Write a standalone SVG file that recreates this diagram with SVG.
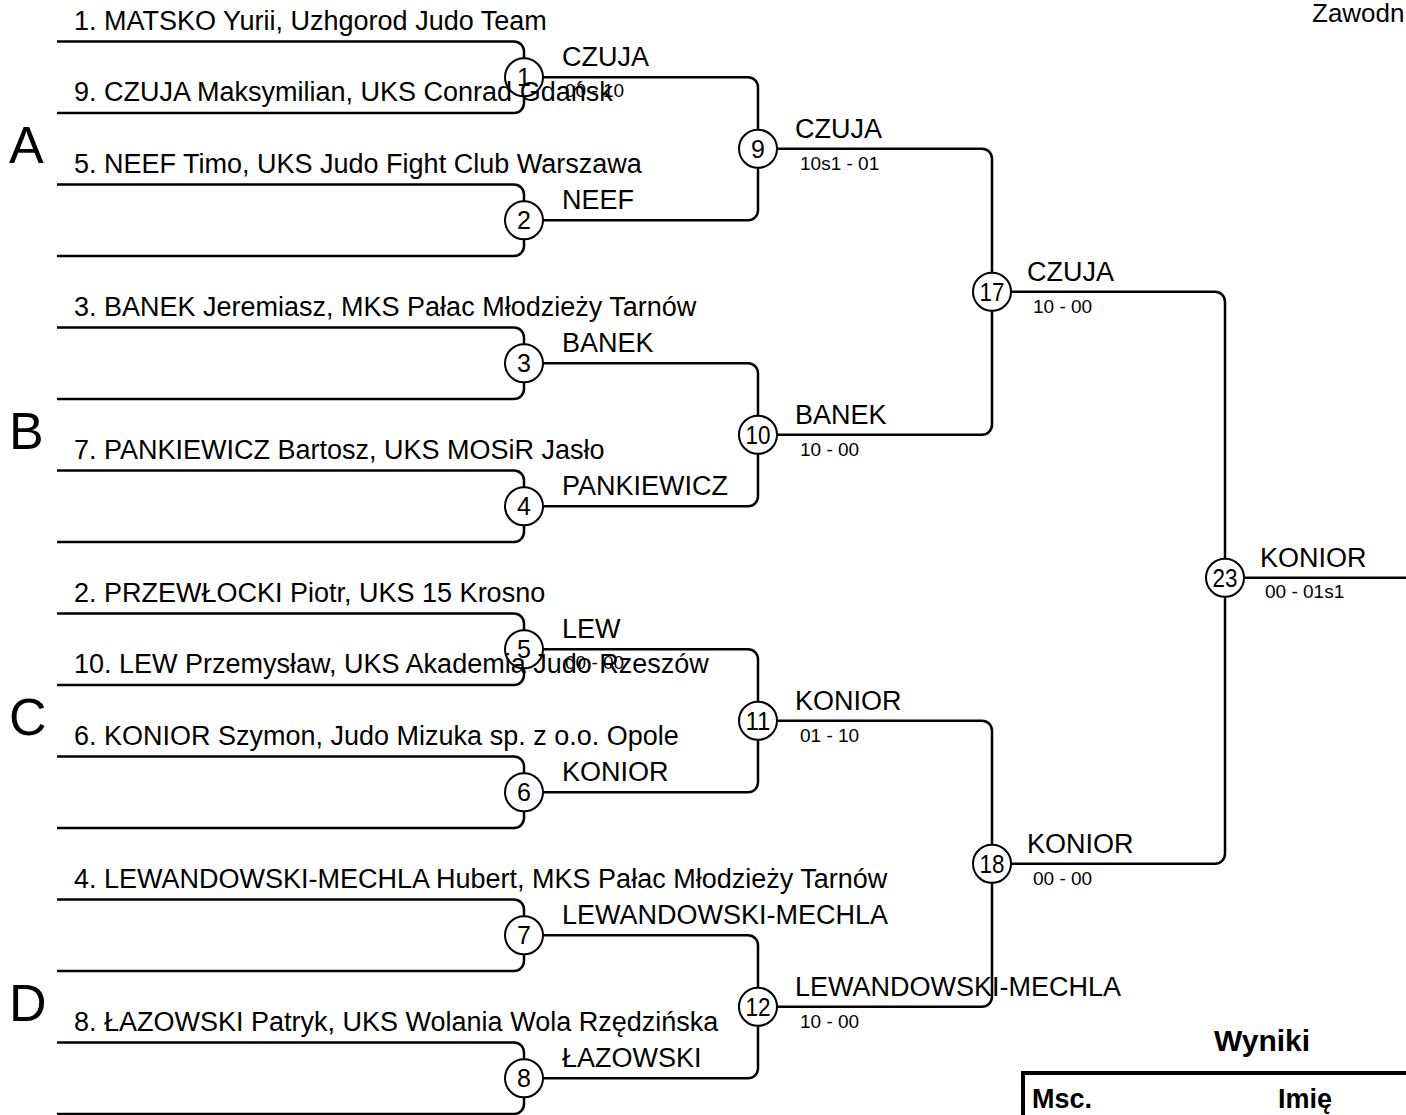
<svg xmlns="http://www.w3.org/2000/svg" width="1406" height="1115" viewBox="0 0 1406 1115">
<style>
.ln{fill:none;stroke:#000;stroke-width:2.5}
.c{fill:none;stroke:#000;stroke-width:2}
text{font-family:'Liberation Sans',Arial,sans-serif;fill:#000}
.nm{font-size:27px}
.lb{font-size:27px}
.sc{font-size:19px}
.num{font-size:25px;text-anchor:middle}
.grp{font-size:52px}
.hd{font-size:27px;font-weight:bold}
</style>
<rect width="1406" height="1115" fill="#fff"/>
<g id="connectors">
<path class="ln" d="M57,41.5 H514 A10,10 0 0 1 524,51.5 V58.25 M57,113 H514 A10,10 0 0 0 524,103 V96.25"/>
<path class="ln" d="M57,184.5 H514 A10,10 0 0 1 524,194.5 V201.25 M57,256 H514 A10,10 0 0 0 524,246 V239.25"/>
<path class="ln" d="M57,327.5 H514 A10,10 0 0 1 524,337.5 V344.25 M57,399 H514 A10,10 0 0 0 524,389 V382.25"/>
<path class="ln" d="M57,470.5 H514 A10,10 0 0 1 524,480.5 V487.25 M57,542 H514 A10,10 0 0 0 524,532 V525.25"/>
<path class="ln" d="M57,613.5 H514 A10,10 0 0 1 524,623.5 V630.25 M57,685 H514 A10,10 0 0 0 524,675 V668.25"/>
<path class="ln" d="M57,756.5 H514 A10,10 0 0 1 524,766.5 V773.25 M57,828 H514 A10,10 0 0 0 524,818 V811.25"/>
<path class="ln" d="M57,899.5 H514 A10,10 0 0 1 524,909.5 V916.25 M57,971 H514 A10,10 0 0 0 524,961 V954.25"/>
<path class="ln" d="M57,1042.5 H514 A10,10 0 0 1 524,1052.5 V1059.25 M57,1114 H514 A10,10 0 0 0 524,1104 V1097.25"/>
<path class="ln" d="M543,77.25 H748 A10,10 0 0 1 758,87.25 V129.75 M543,220.25 H748 A10,10 0 0 0 758,210.25 V167.75"/>
<path class="ln" d="M543,363.25 H748 A10,10 0 0 1 758,373.25 V415.75 M543,506.25 H748 A10,10 0 0 0 758,496.25 V453.75"/>
<path class="ln" d="M543,649.25 H748 A10,10 0 0 1 758,659.25 V701.75 M543,792.25 H748 A10,10 0 0 0 758,782.25 V739.75"/>
<path class="ln" d="M543,935.25 H748 A10,10 0 0 1 758,945.25 V987.75 M543,1078.25 H748 A10,10 0 0 0 758,1068.25 V1025.75"/>
<path class="ln" d="M777,148.75 H982 A10,10 0 0 1 992,158.75 V272.75 M777,434.75 H982 A10,10 0 0 0 992,424.75 V310.75"/>
<path class="ln" d="M777,720.75 H982 A10,10 0 0 1 992,730.75 V844.75 M777,1006.75 H982 A10,10 0 0 0 992,996.75 V882.75"/>
<path class="ln" d="M1011,291.75 H1215 A10,10 0 0 1 1225,301.75 V558.75 M1011,863.75 H1215 A10,10 0 0 0 1225,853.75 V596.75"/>
<path class="ln" d="M1244,577.75 H1406"/>
</g>
<g id="groups">
<text class="grp" x="9" y="163">A</text>
<text class="grp" x="9" y="449">B</text>
<text class="grp" x="9" y="735">C</text>
<text class="grp" x="9" y="1021">D</text>
</g>
<g id="competitors">
<text id="p1" class="nm" x="74" y="29.5">1. MATSKO Yurii, Uzhgorod Judo Team</text>
<text id="p9" class="nm" x="74" y="101">9. CZUJA Maksymilian, UKS Conrad Gdańsk</text>
<text id="p5" class="nm" x="74" y="172.5">5. NEEF Timo, UKS Judo Fight Club Warszawa</text>
<text id="p3" class="nm" x="74" y="315.5">3. BANEK Jeremiasz, MKS Pałac Młodzieży Tarnów</text>
<text id="p7" class="nm" x="74" y="458.5">7. PANKIEWICZ Bartosz, UKS MOSiR Jasło</text>
<text id="p2" class="nm" x="74" y="601.5">2. PRZEWŁOCKI Piotr, UKS 15 Krosno</text>
<text id="p10" class="nm" x="74" y="673">10. LEW Przemysław, UKS Akademia Judo Rzeszów</text>
<text id="p6" class="nm" x="74" y="744.5">6. KONIOR Szymon, Judo Mizuka sp. z o.o. Opole</text>
<text id="p4" class="nm" x="74" y="887.5">4. LEWANDOWSKI-MECHLA Hubert, MKS Pałac Młodzieży Tarnów</text>
<text id="p8" class="nm" x="74" y="1030.5">8. ŁAZOWSKI Patryk, UKS Wolania Wola Rzędzińska</text>
</g>
<g id="m1"><circle class="c" cx="524" cy="77.25" r="19"/><text class="num" x="524" y="86">1</text><text class="lb" x="562" y="66.25">CZUJA</text><text class="sc" x="565" y="97.25">00 - 10</text></g>
<g id="m2"><circle class="c" cx="524" cy="220.25" r="19"/><text class="num" x="524" y="229">2</text><text class="lb" x="562" y="209.25">NEEF</text></g>
<g id="m3"><circle class="c" cx="524" cy="363.25" r="19"/><text class="num" x="524" y="372">3</text><text class="lb" x="562" y="352.25">BANEK</text></g>
<g id="m4"><circle class="c" cx="524" cy="506.25" r="19"/><text class="num" x="524" y="515">4</text><text class="lb" x="562" y="495.25">PANKIEWICZ</text></g>
<g id="m5"><circle class="c" cx="524" cy="649.25" r="19"/><text class="num" x="524" y="658">5</text><text class="lb" x="562" y="638.25">LEW</text><text class="sc" x="565" y="669.25">00 - 00</text></g>
<g id="m6"><circle class="c" cx="524" cy="792.25" r="19"/><text class="num" x="524" y="801">6</text><text class="lb" x="562" y="781.25">KONIOR</text></g>
<g id="m7"><circle class="c" cx="524" cy="935.25" r="19"/><text class="num" x="524" y="944">7</text><text class="lb" x="562" y="924.25">LEWANDOWSKI-MECHLA</text></g>
<g id="m8"><circle class="c" cx="524" cy="1078.25" r="19"/><text class="num" x="524" y="1087">8</text><text class="lb" x="562" y="1067.25">ŁAZOWSKI</text></g>
<g id="m9"><circle class="c" cx="758" cy="148.75" r="19"/><text class="num" x="758" y="157.5">9</text><text class="lb" x="795" y="137.75">CZUJA</text><text class="sc" x="800" y="169.75">10s1 - 01</text></g>
<g id="m10"><circle class="c" cx="758" cy="434.75" r="19"/><text class="num" x="758" y="443.5" textLength="25" lengthAdjust="spacingAndGlyphs">10</text><text class="lb" x="795" y="423.75">BANEK</text><text class="sc" x="800" y="455.75">10 - 00</text></g>
<g id="m11"><circle class="c" cx="758" cy="720.75" r="19"/><text class="num" x="758" y="729.5" textLength="25" lengthAdjust="spacingAndGlyphs">11</text><text class="lb" x="795" y="709.75">KONIOR</text><text class="sc" x="800" y="741.75">01 - 10</text></g>
<g id="m12"><circle class="c" cx="758" cy="1006.75" r="19"/><text class="num" x="758" y="1015.5" textLength="25" lengthAdjust="spacingAndGlyphs">12</text><text class="lb" x="795" y="995.75">LEWANDOWSKI-MECHLA</text><text class="sc" x="800" y="1027.75">10 - 00</text></g>
<g id="m17"><circle class="c" cx="992" cy="291.75" r="19"/><text class="num" x="992" y="300.5" textLength="25" lengthAdjust="spacingAndGlyphs">17</text><text class="lb" x="1027" y="280.75">CZUJA</text><text class="sc" x="1033" y="312.75">10 - 00</text></g>
<g id="m18"><circle class="c" cx="992" cy="863.75" r="19"/><text class="num" x="992" y="872.5" textLength="25" lengthAdjust="spacingAndGlyphs">18</text><text class="lb" x="1027" y="852.75">KONIOR</text><text class="sc" x="1033" y="884.75">00 - 00</text></g>
<g id="m23"><circle class="c" cx="1225" cy="577.75" r="19"/><text class="num" x="1225" y="586.5" textLength="25" lengthAdjust="spacingAndGlyphs">23</text><text class="lb" x="1260" y="566.75">KONIOR</text><text class="sc" x="1265" y="597.75">00 - 01s1</text></g>
<g id="header"><text x="1312" y="22" style="font-size:26px">Zawodn</text></g>
<g id="results">
<text class="hd" x="1262" y="1051" text-anchor="middle" style="font-size:30px">Wyniki</text>
<path d="M1023,1115 V1073 H1406" fill="none" stroke="#000" stroke-width="4"/>
<text class="hd" x="1032" y="1108">Msc.</text>
<text class="hd" x="1278" y="1108">Imię</text>
</g>
</svg>
